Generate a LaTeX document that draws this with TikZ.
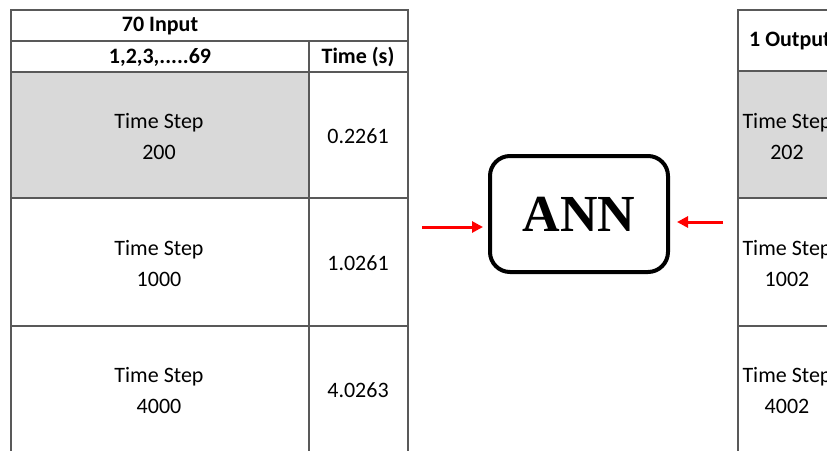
\documentclass[tikz,border=0pt]{standalone}
\usepackage{fontspec}
\setmainfont{Carlito}
\newfontfamily\annfont{Liberation Serif}
\usetikzlibrary{arrows.meta}
\definecolor{cellgray}{HTML}{D9D9D9}
\definecolor{gridline}{HTML}{595959}
\tikzset{
  grid/.style={draw=gridline, line width=1.3pt},
  celltxt/.style={font=\fontsize{22}{31}\selectfont, align=center, inner sep=0pt},
  headtxt/.style={font=\fontsize{22}{31}\selectfont\bfseries, align=center, inner sep=0pt},
  annbox/.style={draw=black, line width=4pt, rounded corners=20pt, minimum width=178pt, minimum height=116pt, inner sep=0pt, font=\fontsize{52}{52}\selectfont\annfont\bfseries},
  redarrow/.style={draw=red, line width=3pt, -{Triangle[length=11pt,width=11pt]}}
}
\begin{document}
\begin{tikzpicture}[x=1pt,y=-1pt]
\useasboundingbox (0,0) rectangle (827,450);
\clip (0,0) rectangle (827,450);
% left table
\fill[cellgray] (11,72) rectangle (309,198);
\draw[grid] (11,460) -- (11,10) -- (408,10) -- (408,460);
\draw[grid] (11,41) -- (408,41);
\draw[grid] (11,72) -- (408,72);
\draw[grid] (11,198) -- (408,198);
\draw[grid] (11,326) -- (408,326);
\draw[grid] (309,41) -- (309,460);
\node[headtxt] (inhead) at (160,26) {70 Input};
\node[headtxt] (incols) at (160,57) {1,2,3,.....69};
\node[headtxt] (timehead) at (358,57) {Time (s)};
\node[celltxt] (in1) at (159,137) {Time Step\\200};
\node[celltxt] (t1) at (358,136) {0.2261};
\node[celltxt] (in2) at (159,264) {Time Step\\1000};
\node[celltxt] (t2) at (358,263) {1.0261};
\node[celltxt] (in3) at (159,391) {Time Step\\4000};
\node[celltxt] (t3) at (358,390) {4.0263};
% right table
\fill[cellgray] (738,72) rectangle (840,198);
\draw[grid] (738,460) -- (738,10) -- (840,10);
\draw[grid] (738,71) -- (840,71);
\draw[grid] (738,198) -- (840,198);
\draw[grid] (738,326) -- (840,326);
\node[headtxt] (outhead) at (790,41) {1 Output};
\node[celltxt] (out1) at (787,137) {Time Step\\202};
\node[celltxt] (out2) at (787,264) {Time Step\\1002};
\node[celltxt] (out3) at (787,391) {Time Step\\4002};
% ANN
\node[annbox] (ann) at (579,214) {ANN};
\coordinate (lstart) at (422,227);
\coordinate (lend) at (483,227);
\coordinate (rstart) at (723,222);
\coordinate (rend) at (677,222);
\draw[redarrow] (lstart) -- (lend);
\draw[redarrow] (rstart) -- (rend);
\end{tikzpicture}
\end{document}
